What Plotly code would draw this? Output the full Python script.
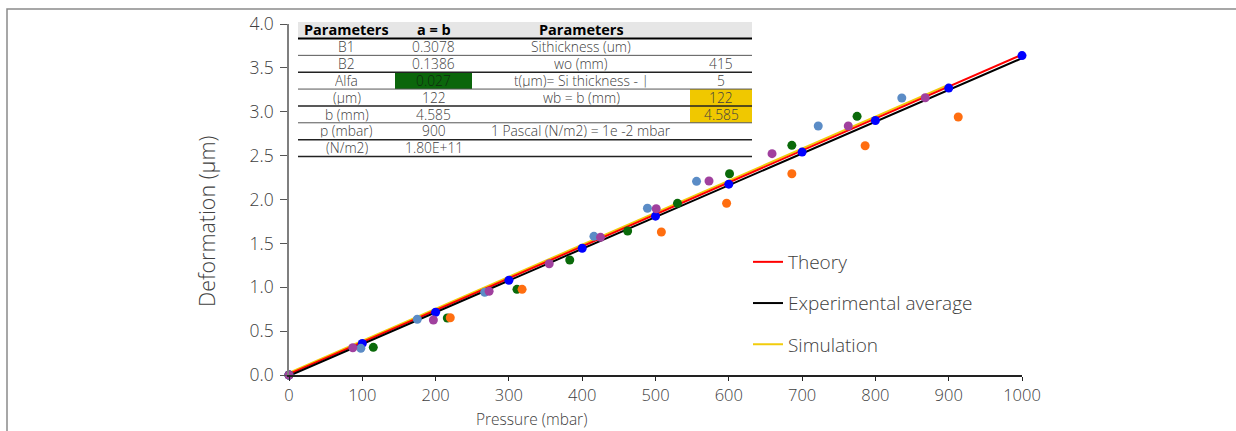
import plotly.graph_objects as go

# ---------------- data ----------------
pressure_ticks = [0, 100, 200, 300, 400, 500, 600, 700, 800, 900, 1000]
theory_D = [0.01, 0.374, 0.738, 1.102, 1.466, 1.83, 2.194, 2.558, 2.922, 3.286, 3.65]
exp_avg_D = [-0.01, 0.352, 0.714, 1.076, 1.438, 1.80, 2.162, 2.524, 2.886, 3.248, 3.61]
sim_P = [0, 100, 200, 300, 400, 500, 600, 700, 800, 900]
sim_D = [0.025, 0.39, 0.755, 1.12, 1.485, 1.85, 2.215, 2.58, 2.945, 3.31]

avg_pts_P = [0, 100, 200, 300, 400, 500, 600, 700, 800, 900, 1000]
avg_pts_D = [0.0, 0.36, 0.715, 1.08, 1.445, 1.81, 2.175, 2.54, 2.90, 3.27, 3.64]

s1_P = [0, 98, 175, 267, 416, 489, 556, 722, 836]
s1_D = [0.0, 0.304, 0.635, 0.942, 1.58, 1.90, 2.207, 2.838, 3.157]
s2_P = [0, 115, 216, 311, 383, 462, 530, 601, 686, 775]
s2_D = [0.0, 0.315, 0.65, 0.976, 1.31, 1.641, 1.956, 2.294, 2.617, 2.948]
s3_P = [220, 318, 508, 597, 686, 786, 913]
s3_D = [0.653, 0.976, 1.63, 1.957, 2.294, 2.613, 2.94]
s4_P = [0, 87, 197, 273, 355, 425, 501, 573, 659, 763, 868]
s4_D = [0.0, 0.311, 0.627, 0.954, 1.268, 1.569, 1.895, 2.211, 2.522, 2.838, 3.16]

table_col1 = ["Parameters", "B1", "B2", "Alfa", "(µm)", "b (mm)", "p (mbar)", "(N/m2)"]
table_col2 = ["a = b", "0.3078", "0.1386", "0.027", "122", "4.585", "900", "1.80E+11"]
table_col3 = ["Parameters", "Sithickness (um)", "wo (mm)", "t(µm)= Si thickness - |",
              "wb = b (mm)", "", "1 Pascal (N/m2) = 1e -2 mbar", ""]
table_col4 = ["", "", "415", "5", "122", "4.585", "", ""]

# ---------------- geometry helpers ----------------
W, H = 1236, 431
L, R, T, B = 289, 214, 24, 56
PW, PH = W - L - R, H - T - B


def px(x):
    return (x - L) / PW


def py(y):
    return (H - B - y) / PH


AXFONT = "Open Sans"
TXT = "#404040"
fig = go.Figure()

fig.add_trace(go.Scatter(x=sim_P, y=sim_D, mode="lines", name="Simulation",
                         line=dict(color="#F2CC0C", width=2), legendgroup="c", legendrank=3,
                         cliponaxis=False))
fig.add_trace(go.Scatter(x=pressure_ticks, y=theory_D, mode="lines", name="Theory",
                         line=dict(color="#FF0000", width=2), legendgroup="a", legendrank=1,
                         cliponaxis=False))
fig.add_trace(go.Scatter(x=pressure_ticks, y=exp_avg_D, mode="lines", name="Experimental average",
                         line=dict(color="#000000", width=2), legendgroup="b", legendrank=2,
                         cliponaxis=False))

mk = dict(size=9, line=dict(width=0))
fig.add_trace(go.Scatter(x=avg_pts_P, y=avg_pts_D, mode="markers", showlegend=False,
                         marker=dict(color="#0000FF", **mk), cliponaxis=False))
fig.add_trace(go.Scatter(x=s1_P, y=s1_D, mode="markers", showlegend=False,
                         marker=dict(color="#5B8CC6", **mk), cliponaxis=False))
fig.add_trace(go.Scatter(x=s2_P, y=s2_D, mode="markers", showlegend=False,
                         marker=dict(color="#0A6A0A", **mk), cliponaxis=False))
fig.add_trace(go.Scatter(x=s3_P, y=s3_D, mode="markers", showlegend=False,
                         marker=dict(color="#FF6E10", **mk), cliponaxis=False))
fig.add_trace(go.Scatter(x=s4_P, y=s4_D, mode="markers", showlegend=False,
                         marker=dict(color="#A0409E", **mk), cliponaxis=False))

shapes = []
annotations = []

# outer frame
shapes.append(dict(type="rect", xref="paper", yref="paper", x0=px(7), x1=px(1250), y0=py(445), y1=py(9),
                   line=dict(color="#8a8a8a", width=1.5), fillcolor="rgba(0,0,0,0)", layer="below"))

# table geometry (pixels)
cols_x = [298, 395, 472, 690, 752]
row_top, hdr_bottom, tbl_bottom = 22, 38.5, 156.5
n_body = len(table_col1) - 1
pitch = (tbl_bottom - hdr_bottom) / n_body
rows_y = [row_top, hdr_bottom] + [hdr_bottom + pitch * (k + 1) for k in range(n_body)]

shapes.append(dict(type="rect", xref="paper", yref="paper", x0=px(cols_x[0]), x1=px(cols_x[-1]),
                   y0=py(rows_y[1]), y1=py(rows_y[0]), fillcolor="#E6E6E6", line=dict(width=0)))
shapes.append(dict(type="rect", xref="paper", yref="paper", x0=px(cols_x[1]), x1=px(cols_x[2]),
                   y0=py(rows_y[4]), y1=py(rows_y[3]), fillcolor="#0B660B", line=dict(width=0)))
shapes.append(dict(type="rect", xref="paper", yref="paper", x0=px(cols_x[3]), x1=px(cols_x[4]),
                   y0=py(rows_y[6]), y1=py(rows_y[4]), fillcolor="#F0C800", line=dict(width=0)))
line_w = [2, 1, 1.5, 1, 1.5, 1, 1.5, 1.5]
line_c = ["#000000", "#555555", "#222222", "#555555", "#222222", "#555555", "#222222", "#222222"]
for i in range(8):
    yy = rows_y[i + 1]
    shapes.append(dict(type="line", xref="paper", yref="paper", x0=px(cols_x[0]), x1=px(cols_x[-1]),
                       y0=py(yy), y1=py(yy), line=dict(color=line_c[i], width=line_w[i])))

for ci, col in enumerate([table_col1, table_col2, table_col3, table_col4]):
    cx = (cols_x[ci] + cols_x[ci + 1]) / 2
    for ri, txt in enumerate(col):
        if not txt:
            continue
        cy = (rows_y[ri] + rows_y[ri + 1]) / 2
        hdr = ri == 0
        color = "#000000" if hdr else TXT
        if ci == 1 and ri == 3:
            color = "#0F2A0F"
        annotations.append(dict(xref="paper", yref="paper", x=px(cx), y=py(cy - 0.5 if hdr else cy + 0.2),
                                text=txt, showarrow=False, xanchor="center", yanchor="middle",
                                height=13.5, borderpad=0, valign="middle",
                                font=dict(family="Open Sans", size=14.5 if hdr else 13.8,
                                          color=color, weight=700 if hdr else 300)))

# axis titles
annotations.append(dict(xref="paper", yref="paper", x=px(206), y=py(222), text="Deformation (µm)",
                        textangle=-90, showarrow=False, xanchor="center", yanchor="middle",
                        font=dict(family=AXFONT, size=21.5, color=TXT, weight=300)))
annotations.append(dict(xref="paper", yref="paper", x=px(531), y=py(419), text="Pressure (mbar)",
                        showarrow=False, xanchor="center", yanchor="middle",
                        font=dict(family=AXFONT, size=15.5, color=TXT, weight=300)))

fig.update_layout(
    width=W, height=H,
    margin=dict(l=L, r=R, t=T, b=B, pad=0),
    paper_bgcolor="white", plot_bgcolor="white",
    shapes=shapes, annotations=annotations,
    showlegend=True,
    legend=dict(x=px(748), y=py(243), xanchor="left", yanchor="top",
                bgcolor="rgba(0,0,0,0)", font=dict(family="Open Sans", size=19, color=TXT, weight=300),
                traceorder="grouped", tracegroupgap=13.5, itemwidth=30),
    xaxis=dict(range=[0, 1000], dtick=100, tick0=0, showgrid=False, zeroline=False,
               showline=True, linecolor="#222222", linewidth=1.5, ticks="outside", ticklen=4,
               tickcolor="#222222", tickfont=dict(family=AXFONT, size=16.5, color=TXT, weight=300)),
    yaxis=dict(range=[0, 4], dtick=0.5, tick0=0, tickformat=".1f", showgrid=False, zeroline=False,
               showline=True, linecolor="#7f7f7f", linewidth=1.5, ticks="outside", ticklen=7,
               ticklabelstandoff=3,
               tickcolor="#555555", tickfont=dict(family=AXFONT, size=17.5, color=TXT, weight=300)),
)

fig.write_html("out.html")
